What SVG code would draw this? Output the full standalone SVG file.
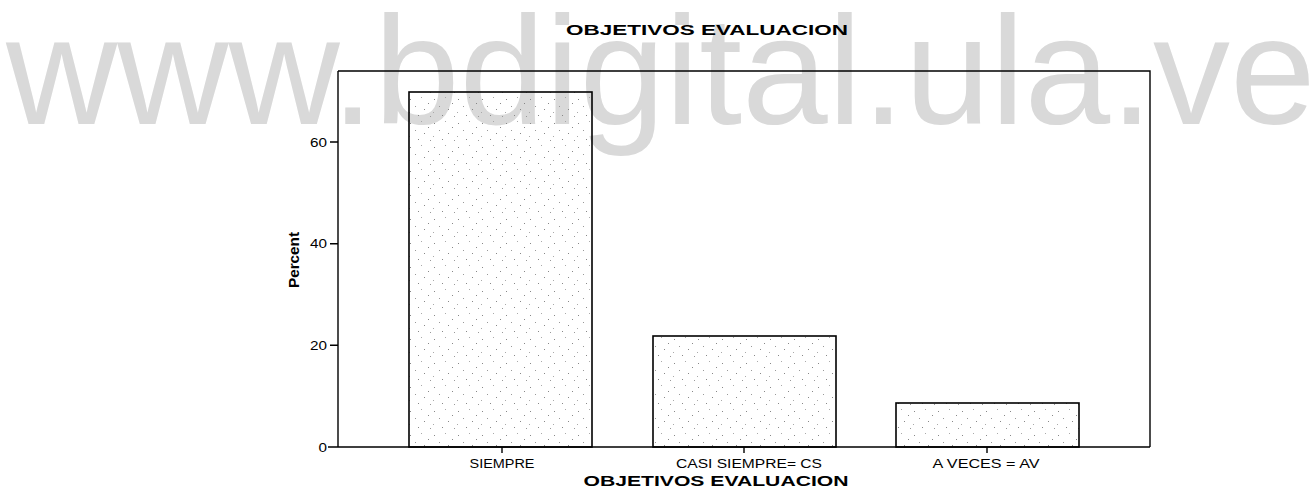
<svg xmlns="http://www.w3.org/2000/svg" width="1315" height="490" viewBox="0 0 1315 490">
<style>
.wm{font-family:"Liberation Sans",Arial,sans-serif;font-size:154px;fill:#d9d9d9}
.ttl{font-family:"Liberation Sans",Arial,sans-serif;font-size:15px;font-weight:bold;fill:#000}
.tick{font-family:"Liberation Sans",Arial,sans-serif;font-size:12px;fill:#000}
.ax{stroke:#000;stroke-width:1.4;fill:none}
.bar{stroke:#000;stroke-width:1.6;fill:url(#dots)}
</style>
<defs>
<pattern id="dots" width="24" height="24" patternUnits="userSpaceOnUse">
<rect x="2" y="3" width="1" height="1" fill="#888"/>
<rect x="13" y="1" width="1" height="1" fill="#aaa"/>
<rect x="20" y="7" width="1" height="1" fill="#888"/>
<rect x="7" y="10" width="1" height="1" fill="#999"/>
<rect x="16" y="13" width="1" height="1" fill="#888"/>
<rect x="1" y="16" width="1" height="1" fill="#aaa"/>
<rect x="10" y="19" width="1" height="1" fill="#888"/>
<rect x="22" y="20" width="1" height="1" fill="#999"/>
</pattern>
</defs>
<rect width="1315" height="490" fill="#fff"/>
<text class="wm" x="6" y="124">www.bdigital.ula.ve</text>
<text class="ttl" x="707" y="35" text-anchor="middle" textLength="282" lengthAdjust="spacingAndGlyphs">OBJETIVOS EVALUACION</text>
<g id="frame">
<path class="ax" d="M338,71 H1150 V447 M338,71 V447 M328,447 H1150"/>
<path class="ax" d="M330,142 H338 M330,243.7 H338 M330,345.3 H338 M502,447 V453 M744,447 V453 M987,447 V453"/>
</g>
<g id="yaxis">
<text class="tick" x="327" y="146.5" text-anchor="end" textLength="17" lengthAdjust="spacingAndGlyphs">60</text>
<text class="tick" x="327" y="248" text-anchor="end" textLength="17" lengthAdjust="spacingAndGlyphs">40</text>
<text class="tick" x="327" y="349.7" text-anchor="end" textLength="17" lengthAdjust="spacingAndGlyphs">20</text>
<text class="tick" x="327" y="451.5" text-anchor="end" textLength="8.5" lengthAdjust="spacingAndGlyphs">0</text>
<text class="ttl" transform="translate(299,260) rotate(-90)" text-anchor="middle" font-size="16" textLength="56" lengthAdjust="spacingAndGlyphs">Percent</text>
</g>
<g id="bar-siempre"><rect class="bar" x="409" y="92" width="183" height="355"/><text class="tick" x="502" y="468" text-anchor="middle" textLength="65" lengthAdjust="spacingAndGlyphs">SIEMPRE</text></g>
<g id="bar-casi"><rect class="bar" x="653" y="336" width="183" height="111"/><text class="tick" x="749" y="468" text-anchor="middle" textLength="146" lengthAdjust="spacingAndGlyphs">CASI SIEMPRE= CS</text></g>
<g id="bar-aveces"><rect class="bar" x="896" y="403" width="183" height="44"/><text class="tick" x="986" y="468" text-anchor="middle" textLength="107" lengthAdjust="spacingAndGlyphs">A VECES = AV</text></g>
<text class="ttl" x="716" y="486" text-anchor="middle" textLength="265" lengthAdjust="spacingAndGlyphs">OBJETIVOS EVALUACION</text>
</svg>
